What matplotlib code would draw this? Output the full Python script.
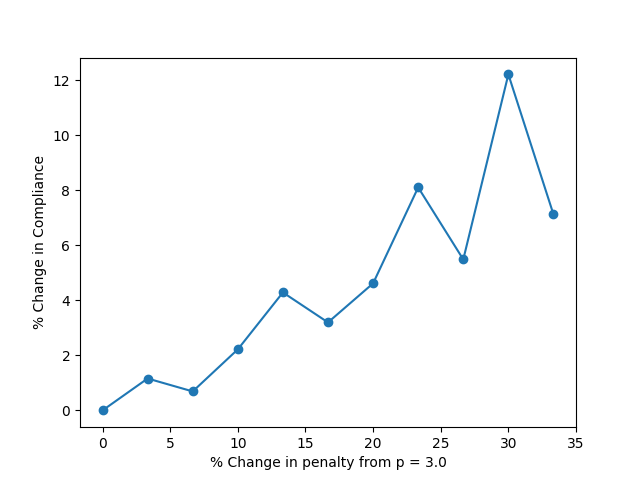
import matplotlib
matplotlib.use('Agg')
import matplotlib.pyplot as plt

# penalty change (%) and resulting compliance change (%)
penalty_change = [0.0, 10/3, 20/3, 10.0, 40/3, 50/3, 20.0, 70/3, 80/3, 30.0, 100/3]
compliance_change = [0.0, 1.16, 0.69, 2.22, 4.29, 3.2, 4.62, 8.11, 5.49, 12.22, 7.13]

fig, ax = plt.subplots(figsize=(6.4, 4.8), dpi=100)
ax.plot(penalty_change, compliance_change, marker='o')
ax.set_xlim(-5/3, 35)
ax.set_xlabel('% Change in penalty from p = 3.0')
ax.set_ylabel('% Change in Compliance')

fig.savefig('out.png')
